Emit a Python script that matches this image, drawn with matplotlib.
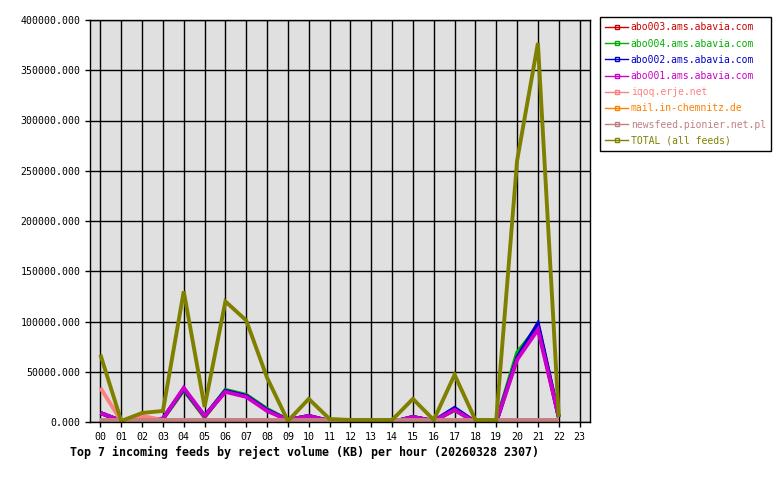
import matplotlib
matplotlib.use("Agg")
import matplotlib.pyplot as plt
from matplotlib.lines import Line2D
from matplotlib.ticker import FuncFormatter

hours = list(range(23))
hour_labels = ["%02d" % h for h in range(24)]

feeds = ["abo003.ams.abavia.com", "abo004.ams.abavia.com", "abo002.ams.abavia.com",
         "abo001.ams.abavia.com", "iqoq.erje.net", "mail.in-chemnitz.de",
         "newsfeed.pionier.net.pl", "TOTAL (all feeds)"]
colors = ["#cc0000", "#00b000", "#0000cc", "#cc00cc", "#ff8080", "#ff8000", "#c08080", "#808000"]

abo003 = [9000, 1000, 0, 3000, 32000, 5000, 31000, 26000, 12000, 2000, 6000, 1000, 0, 0, 0,
          5000, 1000, 12000, 0, 0, 66000, 96000, 5000]
abo004 = [9000, 1000, 0, 3000, 32000, 5000, 32000, 27000, 13000, 2000, 6000, 1000, 0, 0, 0,
          5000, 1000, 12000, 0, 0, 69000, 95000, 5000]
abo002 = [9000, 1000, 0, 3500, 33000, 6000, 31000, 26000, 12000, 2000, 6000, 1000, 0, 0, 0,
          5000, 1000, 14000, 0, 0, 64000, 98000, 5000]
abo001 = [9000, 1000, 0, 3000, 34000, 6000, 30000, 25000, 11000, 2000, 6000, 1000, 0, 0, 0,
          5000, 1000, 12000, 0, 0, 62000, 92000, 5000]
iqoq = [34000, 1000, 6000, 2000, 1000, 1000, 1000, 1000, 1000, 1000, 1000, 1000, 1000, 1000, 1000,
        1000, 1000, 1000, 1000, 1000, 1000, 1000, 1000]
mail = [0, 0, 2000, 1000, 0, 0, 0, 0, 0, 0, 2000, 0, 0, 0, 0,
        2000, 0, 0, 0, 0, 0, 0, 0]
newsfeed = [1500] * 23
total = [67000, 1000, 9000, 11000, 130000, 15000, 120000, 101000, 44000, 1000, 23000, 3000, 2000,
         2000, 2000, 23000, 2000, 47000, 2000, 2000, 260000, 377000, 5000]

series = [abo003, abo004, abo002, abo001, iqoq, mail, newsfeed, total]

mono = "DejaVu Sans Mono"
fig = plt.figure(figsize=(7.8, 4.8), dpi=100)
ax = fig.add_axes([90 / 780, 1 - 422 / 480, 500 / 780, 402 / 480])
ax.set_facecolor("#e0e0e0")

for vals, col in zip(series, colors):
    ax.plot(hours, vals, color=col, lw=2.8, solid_joinstyle="miter", solid_capstyle="butt")

ax.set_xlim(-0.5, 23.5)
ax.set_ylim(0, 400000)
ax.set_xticks(range(24))
ax.set_xticklabels(hour_labels, fontfamily=mono, fontsize=7.2)
ax.set_yticks(range(0, 400001, 50000))
ax.yaxis.set_major_formatter(FuncFormatter(lambda v, p: "%.3f" % v))
for lab in ax.get_yticklabels():
    lab.set_fontfamily(mono)
    lab.set_fontsize(7.1)
ax.tick_params(direction="out", length=3.5, width=1, color="black", pad=3.5)
ax.grid(True, color="black", lw=1)
ax.set_axisbelow(True)
for s in ax.spines.values():
    s.set_color("black")
    s.set_linewidth(1)

handles = [Line2D([0], [0], color=c, lw=1, marker="s", markersize=3, fillstyle="none",
                  markeredgewidth=1) for c in colors]
leg = fig.legend(handles, feeds, loc="upper left", bbox_to_anchor=(600 / 780, 1 - 17 / 480),
                 frameon=True, fancybox=False, edgecolor="black", framealpha=1,
                 prop={"family": mono, "size": 7.0}, handlelength=2.3, handletextpad=0.3,
                 labelspacing=0.64, borderpad=0.55, borderaxespad=0)
leg.get_frame().set_linewidth(1)
for t, c in zip(leg.get_texts(), colors):
    t.set_color(c)

fig.text(70 / 780, 1 - 452 / 480,
         "Top 7 incoming feeds by reject volume (KB) per hour (20260328 2307)",
         fontfamily=mono, fontsize=8.4, fontweight="bold", ha="left", va="center")

fig.savefig("out.png", dpi=100, facecolor="white")
